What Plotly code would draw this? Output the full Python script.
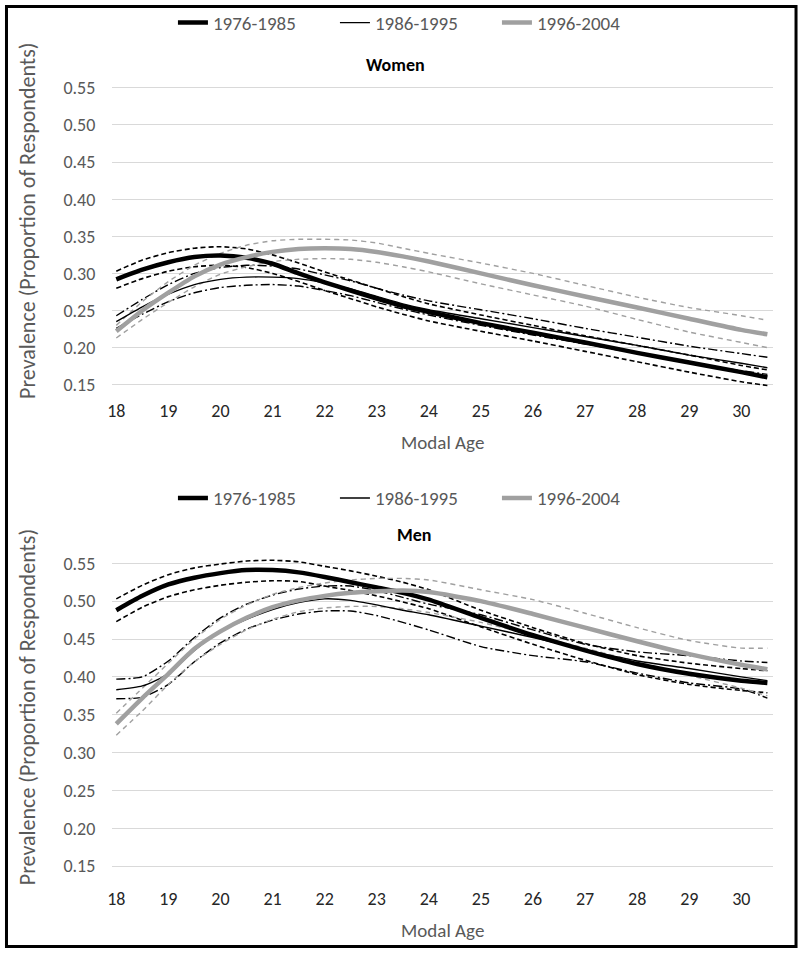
import plotly.graph_objects as go

ages = [18, 18.5, 19, 19.5, 20, 20.5, 21, 21.5, 22, 22.5, 23, 23.5, 24, 25, 26, 27, 28, 29, 30, 30.5]
x_ticks = list(range(18, 31))
y_ticks = [0.15, 0.20, 0.25, 0.30, 0.35, 0.40, 0.45, 0.50, 0.55]
cohorts = ["1976-1985", "1986-1995", "1996-2004"]

# Women
w76 = [0.292,0.305,0.315,0.322,0.324,0.321,0.313,0.300,0.288,0.277,0.266,0.256,0.248,0.233,0.220,0.207,0.193,0.180,0.167,0.160]
w76_hi = [0.303,0.318,0.328,0.334,0.336,0.333,0.325,0.314,0.302,0.291,0.280,0.269,0.259,0.244,0.230,0.216,0.203,0.190,0.176,0.170]
w76_lo = [0.280,0.293,0.303,0.309,0.311,0.308,0.300,0.289,0.277,0.266,0.255,0.245,0.236,0.222,0.209,0.195,0.181,0.167,0.154,0.149]
w86 = [0.235,0.255,0.272,0.285,0.292,0.295,0.295,0.293,0.287,0.279,0.269,0.259,0.251,0.239,0.227,0.215,0.203,0.190,0.179,0.173]
w86_hi = [0.243,0.265,0.285,0.300,0.308,0.311,0.310,0.306,0.298,0.290,0.280,0.271,0.263,0.251,0.239,0.226,0.214,0.202,0.192,0.187]
w86_lo = [0.226,0.245,0.262,0.274,0.281,0.284,0.285,0.283,0.277,0.270,0.261,0.252,0.244,0.230,0.217,0.205,0.192,0.180,0.169,0.164]
w96 = [0.222,0.250,0.274,0.296,0.312,0.322,0.329,0.333,0.334,0.333,0.329,0.323,0.316,0.300,0.284,0.269,0.254,0.239,0.224,0.218]
w96_hi = [0.230,0.262,0.289,0.311,0.327,0.338,0.344,0.346,0.346,0.345,0.341,0.334,0.327,0.314,0.300,0.284,0.268,0.254,0.243,0.237]
w96_lo = [0.213,0.238,0.261,0.282,0.299,0.309,0.316,0.319,0.320,0.319,0.315,0.309,0.302,0.286,0.271,0.256,0.238,0.221,0.207,0.200]

# Men
m76 = [0.488,0.507,0.522,0.531,0.537,0.541,0.541,0.538,0.532,0.525,0.518,0.511,0.502,0.478,0.455,0.435,0.417,0.404,0.395,0.392]
m76_hi = [0.503,0.521,0.535,0.544,0.549,0.553,0.554,0.552,0.546,0.540,0.533,0.525,0.515,0.488,0.465,0.444,0.428,0.418,0.411,0.408]
m76_lo = [0.473,0.492,0.506,0.515,0.521,0.525,0.527,0.526,0.520,0.514,0.507,0.499,0.490,0.466,0.443,0.422,0.403,0.390,0.382,0.379]
m86 = [0.383,0.388,0.404,0.435,0.460,0.476,0.489,0.498,0.503,0.501,0.495,0.488,0.482,0.467,0.452,0.436,0.421,0.411,0.400,0.395]
m86_hi = [0.397,0.400,0.421,0.452,0.478,0.496,0.508,0.516,0.520,0.520,0.514,0.505,0.496,0.482,0.462,0.443,0.433,0.428,0.421,0.419]
m86_lo = [0.371,0.373,0.390,0.420,0.445,0.463,0.475,0.483,0.487,0.487,0.481,0.472,0.462,0.440,0.428,0.420,0.405,0.392,0.384,0.372]
m96 = [0.338,0.372,0.404,0.437,0.460,0.478,0.492,0.501,0.507,0.511,0.513,0.514,0.512,0.500,0.483,0.465,0.447,0.430,0.416,0.410]
m96_hi = [0.352,0.385,0.418,0.450,0.476,0.495,0.509,0.518,0.524,0.528,0.530,0.530,0.528,0.515,0.502,0.484,0.465,0.448,0.438,0.438]
m96_lo = [0.323,0.355,0.390,0.420,0.443,0.462,0.476,0.486,0.491,0.493,0.493,0.490,0.485,0.472,0.455,0.438,0.420,0.402,0.385,0.375]

W, H = 800, 956
FONT = "Carlito, Lato, sans-serif"
GRAY_TXT = "#595959"
GRAY_LINE = "#a0a0a0"
Y_LO, Y_HI = 0.145, 0.558

fig = go.Figure()

def add_panel(xa, ya, leg, series):
    styles = [
        dict(center=dict(color="black", width=4.5), ci=dict(color="black", width=1.6, dash="5px,3px")),
        dict(center=dict(color="black", width=1.4), ci=dict(color="black", width=1.4, dash="9px,3px,2px,3px")),
        dict(center=dict(color=GRAY_LINE, width=4.5), ci=dict(color=GRAY_LINE, width=1.4, dash="5px,4px")),
    ]
    for i, (name, (c, hi, lo)) in enumerate(zip(cohorts, series)):
        st = styles[i]
        for vals in (hi, lo):
            fig.add_trace(go.Scatter(x=ages, y=vals, mode="lines", line=dict(**st["ci"], shape="spline", smoothing=0.6),
                                     showlegend=False, xaxis=xa, yaxis=ya, hoverinfo="skip"))
    for i, (name, (c, hi, lo)) in enumerate(zip(cohorts, series)):
        st = styles[i]
        fig.add_trace(go.Scatter(x=ages, y=c, mode="lines", name=name, line=dict(**st["center"], shape="spline", smoothing=0.6),
                                 showlegend=True, legend=leg, xaxis=xa, yaxis=ya))

add_panel("x", "y", "legend", [(w76, w76_hi, w76_lo), (w86, w86_hi, w86_lo), (w96, w96_hi, w96_lo)])
add_panel("x2", "y2", "legend2", [(m76, m76_hi, m76_lo), (m86, m86_hi, m86_lo), (m96, m96_hi, m96_lo)])

def px_x(p):
    return p / W

def px_y(p):
    return 1 - p / H

def ydomain(p55, p15):
    per = (p15 - p55) / 0.4
    top = p55 - (Y_HI - 0.55) * per
    bot = p15 + (0.15 - Y_LO) * per
    return [px_y(bot), px_y(top)]

xrange = [17.924, 30.611]
xdom = [px_x(108), px_x(773)]
common_x = dict(range=xrange, tickvals=x_ticks, showgrid=False, zeroline=False, showline=False,
                ticks="", tickfont=dict(family=FONT, size=18, color="#262626"),
                title=dict(text="Modal Age", font=dict(family=FONT, size=19, color=GRAY_TXT), standoff=14))
common_y = dict(range=[Y_LO, Y_HI], tickvals=y_ticks, tickformat=".2f", showgrid=True, gridcolor="#d9d9d9",
                gridwidth=1, zeroline=False, showline=False, ticks="",
                tickfont=dict(family=FONT, size=18, color=GRAY_TXT), ticklabelstandoff=16)

legend_common = dict(orientation="h", xanchor="left", yanchor="middle", bgcolor="rgba(0,0,0,0)",
                     font=dict(family=FONT, size=19, color=GRAY_TXT), entrywidth=117, entrywidthmode="pixels",
                     itemwidth=30, tracegroupgap=0)

fig.update_layout(
    width=W, height=H,
    margin=dict(l=0, r=0, t=0, b=0),
    paper_bgcolor="white", plot_bgcolor="white",
    font=dict(family=FONT),
    xaxis=dict(domain=xdom, anchor="y", ticklabelstandoff=10, **common_x),
    yaxis=dict(domain=ydomain(84, 385), anchor="x", **common_y),
    xaxis2=dict(domain=xdom, anchor="y2", ticklabelstandoff=16, **common_x),
    yaxis2=dict(domain=ydomain(566, 873), anchor="x2", **common_y),
    legend=dict(x=px_x(169), y=px_y(18), **legend_common),
    legend2=dict(x=px_x(169), y=px_y(500), **legend_common),
    showlegend=True,
    annotations=[
        dict(text="<b>Women</b>", x=px_x(393), y=px_y(61), xref="paper", yref="paper", showarrow=False,
             xanchor="center", yanchor="middle", font=dict(family=FONT, size=18, color="black")),
        dict(text="<b>Men</b>", x=px_x(412), y=px_y(537), xref="paper", yref="paper", showarrow=False,
             xanchor="center", yanchor="middle", font=dict(family=FONT, size=18, color="black")),
        dict(text="Prevalence (Proportion of Respondents)", x=px_x(22), y=px_y(219), xref="paper", yref="paper",
             xanchor="center", yanchor="middle",
             showarrow=False, textangle=-90, font=dict(family=FONT, size=22, color=GRAY_TXT)),
        dict(text="Prevalence (Proportion of Respondents)", x=px_x(22), y=px_y(712), xref="paper", yref="paper",
             xanchor="center", yanchor="middle",
             showarrow=False, textangle=-90, font=dict(family=FONT, size=22, color=GRAY_TXT)),
    ],
    shapes=[dict(type="rect", xref="paper", yref="paper", x0=px_x(1.5), x1=px_x(796), y0=px_y(954.5), y1=px_y(1.5),
                 line=dict(color="black", width=3), fillcolor="rgba(0,0,0,0)", layer="above")],
)

post = (
    "document.documentElement.style.margin='0';document.documentElement.style.padding='0';"
    "document.documentElement.style.overflow='hidden';"
    "document.body.style.margin='0';document.body.style.padding='0';document.body.style.overflow='hidden';"
    "var gd=document.getElementsByClassName('plotly-graph-div')[0];"
    "gd.style.position='fixed';gd.style.left='0px';gd.style.top='0px';"
)
fig.write_html("out.html", post_script=post, config={"displayModeBar": False})
